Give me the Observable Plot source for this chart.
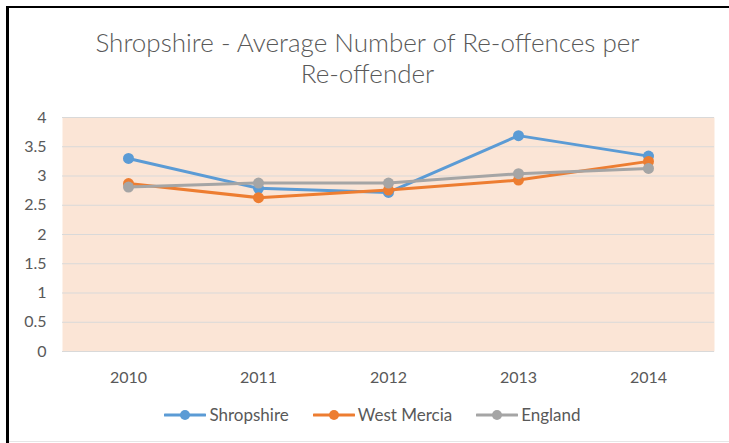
<!DOCTYPE html>
<html>
<head>
<meta charset="utf-8">
<script src="https://cdn.jsdelivr.net/npm/d3@7"></script>
<script src="https://cdn.jsdelivr.net/npm/@observablehq/plot@0.6"></script>
<style>
  body { margin: 0; background: #fff; }
  #wrap { position: relative; width: 729px; height: 443px; background: #fff; overflow: hidden; font-family: Lato, "Open Sans", sans-serif; color: #595959; }
  #title { position: absolute; left: 6px; right: 0; top: 27px; text-align: center; font-size: 26px; line-height: 31px; color: #595959; font-weight: 300; }
  #plot { position: absolute; left: 0; top: 0; }
  #legend { position: absolute; left: 16px; right: 0; top: 404px; display: flex; justify-content: center; align-items: center; font-size: 17px; color: #595959; }
  .item { display: flex; align-items: center; margin: 0 12px; }
  .item svg { margin-right: 3px; }
  .bt { position: absolute; left: 6px; right: 0; top: 6px; height: 2px; background: #000; }
  .bl { position: absolute; left: 6px; top: 6px; width: 3px; bottom: 0; background: #000; }
  .bb { position: absolute; left: 9px; right: 0; top: 441px; height: 1px; background: #e6e6e6; }
</style>
</head>
<body>
<div id="wrap">
  <div id="plot"></div>
  <div class="bt"></div>
  <div class="bl"></div>
  <div class="bb"></div>
  <div id="title">Shropshire - Average Number of Re-offences per<br>Re-offender</div>
  <div id="legend"></div>
</div>
<script>
const years = ["2010", "2011", "2012", "2013", "2014"];
const seriesNames = ["Shropshire", "West Mercia", "England"];
const shropshire = [3.30, 2.79, 2.72, 3.69, 3.34];
const westMercia = [2.87, 2.63, 2.76, 2.93, 3.25];
const england = [2.81, 2.88, 2.88, 3.04, 3.13];
const yTicks = [0, 0.5, 1, 1.5, 2, 2.5, 3, 3.5, 4];
const colors = ["#5B9BD5", "#ED7D31", "#A5A5A5"];

const seriesValues = [shropshire, westMercia, england];
const data = [];
seriesNames.forEach((name, i) => {
  years.forEach((yr, j) => data.push({ series: name, year: yr, value: seriesValues[i][j] }));
});

const chart = Plot.plot({
  width: 729,
  height: 443,
  marginLeft: 62,
  marginRight: 15,
  marginTop: 117,
  marginBottom: 92,
  style: { background: "transparent", fontFamily: "Lato, 'Open Sans', sans-serif", fontSize: "16px", color: "#595959" },
  x: { type: "point", domain: years, padding: 0.5, label: null },
  y: { domain: [0, 4], label: null },
  color: { domain: seriesNames, range: colors },
  marks: [
    Plot.frame({ fill: "#FBE5D6", stroke: null }),
    Plot.gridY(yTicks, { stroke: "#D9D9D9", strokeOpacity: 1, strokeWidth: 1 }),
    Plot.axisY(yTicks, { tickSize: 0, tickPadding: 16, tickFormat: d => String(d), fill: "#595959", label: null }),
    Plot.axisX({ tickSize: 0, tickPadding: 20, fill: "#595959", label: null }),
    Plot.line(data, { x: "year", y: "value", stroke: "series", z: "series", strokeWidth: 3 }),
    Plot.dot(data, { x: "year", y: "value", fill: "series", r: 5.5, stroke: null })
  ]
});
document.getElementById("plot").appendChild(chart);

const legend = document.getElementById("legend");
seriesNames.forEach((name, i) => {
  const item = document.createElement("div");
  item.className = "item";
  item.innerHTML = `<svg width="42" height="14"><line x1="1" y1="7" x2="41" y2="7" stroke="${colors[i]}" stroke-width="3" stroke-linecap="round"/><circle cx="21" cy="7" r="5" fill="${colors[i]}"/></svg><span>${name}</span>`;
  legend.appendChild(item);
});
</script>
</body>
</html>
